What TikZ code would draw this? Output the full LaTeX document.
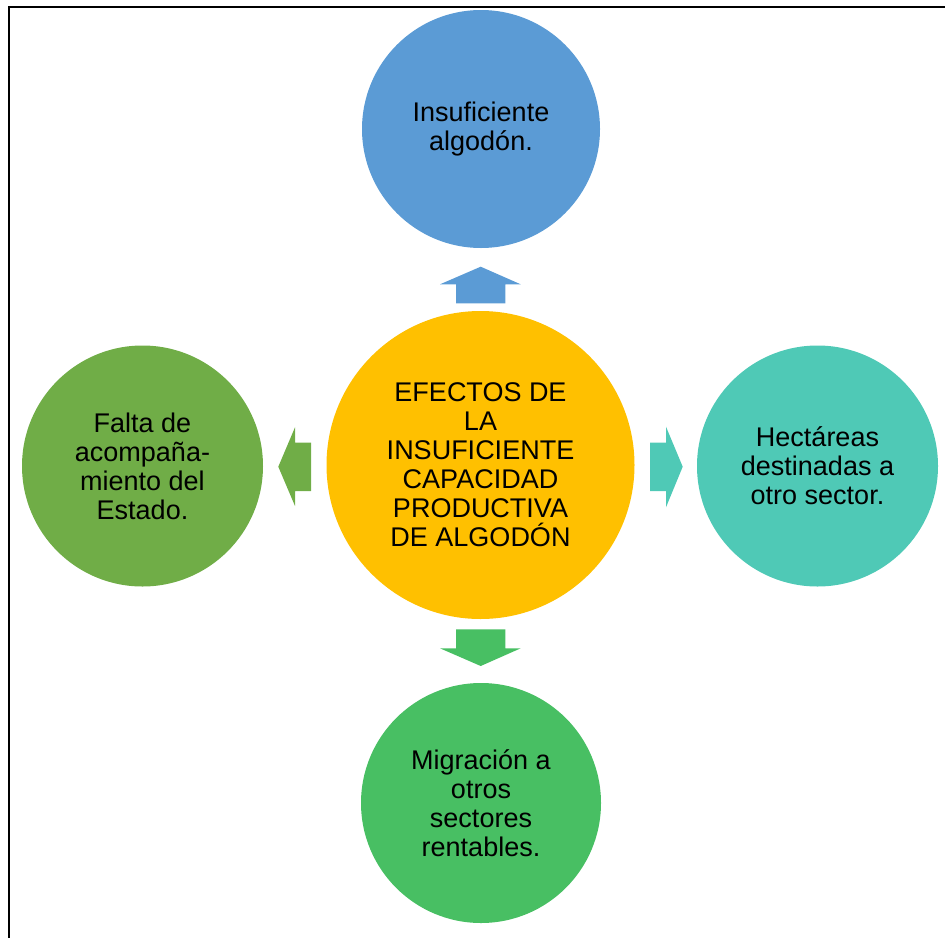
\documentclass[tikz,border=0pt]{standalone}
\usepackage{fontspec}
\setmainfont{Liberation Sans}
\definecolor{cblue}{HTML}{5B9BD5}
\definecolor{cyellow}{HTML}{FFC000}
\definecolor{cteal}{HTML}{4FC9B6}
\definecolor{cgreenl}{HTML}{70AD47}
\definecolor{cgreenb}{HTML}{48BF63}
\tikzset{
  bubble/.style={circle, inner sep=0pt, draw=none, align=center,
    font=\fontsize{27}{29}\selectfont, text=black},
  blockarrow/.style={draw=none}
}
\begin{document}
\begin{tikzpicture}[x=1pt,y=-1pt]
\useasboundingbox (0,0) rectangle (945,937);
% frame (only left and top edges visible)
\draw[line width=2pt] (8.8,945) -- (8.8,7) -- (950,7);
% circles
\node[bubble, fill=cblue, minimum size=238pt] (top) at (481,129) {Insuficiente\\algodón.};
\node[bubble, fill=cyellow, minimum size=308pt] (center) at (480.5,465) {EFECTOS DE\\LA\\INSUFICIENTE\\CAPACIDAD\\PRODUCTIVA\\DE ALGODÓN};
\node[bubble, fill=cgreenl, minimum size=241pt] (left) at (142.5,466) {Falta de\\acompaña-\\miento del\\Estado.};
\node[bubble, fill=cteal, minimum size=241pt] (right) at (817.5,466) {Hectáreas\\destinadas a\\otro sector.};
\node[bubble, fill=cgreenb, minimum size=240pt] (bottom) at (481,803) {Migración a\\otros\\sectores\\rentables.};
% block arrows
\fill[blockarrow, cblue] (456,303.3) -- (505.3,303.3) -- (505.3,284.3) -- (520.7,284.3) -- (480.7,266.7) -- (440,284.3) -- (456,284.3) -- cycle;
\fill[blockarrow, cgreenl] (311,442.7) -- (295,442.7) -- (295,427.3) -- (278.3,466.7) -- (295,506) -- (295,491) -- (311,491) -- cycle;
\fill[blockarrow, cteal] (650,442.7) -- (666,442.7) -- (666,426.7) -- (682.7,466.7) -- (666,507.3) -- (666,491) -- (650,491) -- cycle;
\fill[blockarrow, cgreenb] (456,629.3) -- (505.3,629.3) -- (505.3,648.3) -- (520.7,648.3) -- (480.7,666) -- (440,648.3) -- (456,648.3) -- cycle;
\end{tikzpicture}
\end{document}
